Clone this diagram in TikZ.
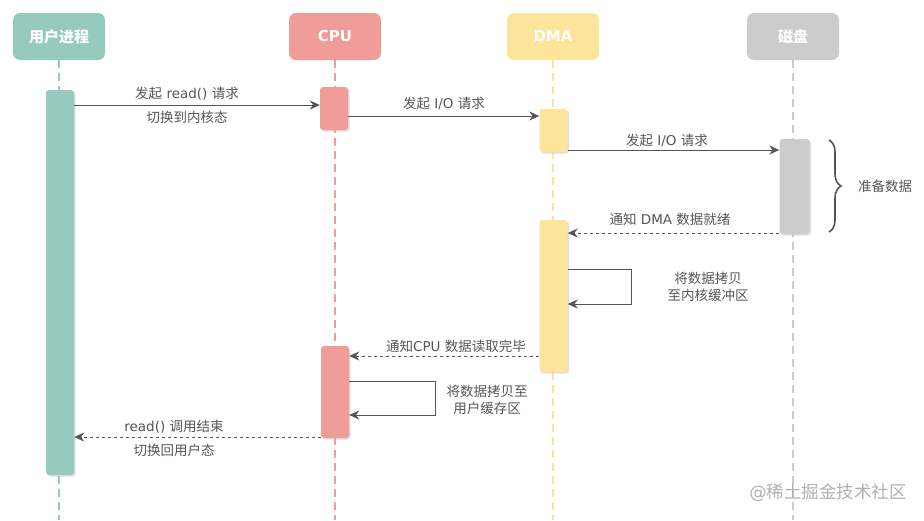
\documentclass[tikz,border=0pt]{standalone}
\usepackage{fontspec}
\setmainfont{DejaVu Sans}
\newfontfamily\cjk{Noto Sans CJK SC}
\usetikzlibrary{arrows.meta,decorations.pathreplacing,calc,shadows}
\definecolor{cuser}{HTML}{96CABD}
\definecolor{ccpu}{HTML}{F09C99}
\definecolor{cdma}{HTML}{FDE49B}
\definecolor{cdisk}{HTML}{CCCCCC}
\definecolor{ctext}{HTML}{555555}
\definecolor{cmark}{HTML}{B0B0B0}
\begin{document}
\begin{tikzpicture}[x=1pt,y=-1pt,
  head/.style={rounded corners=7pt, minimum width=92pt, minimum height=47pt, inner sep=0pt,
    text=white, font=\fontsize{15}{17}\selectfont\bfseries},
  life/.style={line width=1.8pt, dash pattern=on 8pt off 5pt},
  bar/.style={rounded corners=3pt, minimum width=28pt, inner sep=0pt,
    drop shadow={shadow xshift=1.5pt, shadow yshift=-1.5pt, fill=black!25}},
  msg/.style={draw=ctext, line width=0.9pt, -{Stealth[length=10pt,width=9pt]}},
  ret/.style={msg, dashed},
  lbl/.style={text=ctext, font=\fontsize{13.5}{16}\selectfont, inner sep=0pt},
]
\useasboundingbox (0,0) rectangle (924,520);
% headers
\node[head, fill=cuser] (hu) at (59,36.5) {\cjk\bfseries 用户进程};
\node[head, fill=ccpu] (hc) at (335,36.5) {CPU};
\node[head, fill=cdma] (hd) at (553,36.5) {DMA};
\node[head, fill=cdisk] (hk) at (793,36.5) {\cjk\bfseries 磁盘};
% lifeline ends
\coordinate (eu) at (59,520);
\coordinate (ec) at (335,520);
\coordinate (ed) at (553,520);
\coordinate (ek) at (793,520);
\draw[life, draw=cuser] (hu.south) -- (eu);
\draw[life, draw=ccpu] (hc.south) -- (ec);
\draw[life, draw=cdma] (hd.south) -- (ed);
\draw[life, draw=cdisk] (hk.south) -- (ek);
% activation bars
\node[bar, fill=cuser, minimum height=385pt] (u1) at (60,282.5) {};
\node[bar, fill=ccpu, minimum height=43pt] (c1) at (334,108.5) {};
\node[bar, fill=ccpu, minimum height=92pt] (c2) at (335,392) {};
\node[bar, fill=cdma, minimum height=43pt] (d1) at (553.5,130.5) {};
\node[bar, fill=cdma, minimum height=152pt] (d2) at (553.5,296) {};
\node[bar, fill=cdisk, minimum width=30pt, minimum height=95pt] (k1) at (794.5,186.5) {};
% messages
\draw[msg] (u1.east |- 0,105) -- (c1.west |- 0,105);
\node[lbl] (m1a) at (187,94) {{\cjk 发起} read() {\cjk 请求}};
\node[lbl] (m1b) at (187,117) {\cjk 切换到内核态};
\draw[msg] (c1.east |- 0,116) -- (d1.west |- 0,116);
\node[lbl] (m2) at (444,103) {{\cjk 发起} I/O {\cjk 请求}};
\draw[msg] (d1.east |- 0,150) -- (k1.west |- 0,150);
\node[lbl] (m3) at (667,140) {{\cjk 发起} I/O {\cjk 请求}};
% brace
\coordinate (b1) at (829,140);
\coordinate (b2) at (829,232);
\draw[draw=ctext, line width=1.6pt, decorate, decoration={brace, amplitude=12pt}] (b1) -- (b2);
\node[lbl] (prep) at (885,186) {\cjk 准备数据};
% notify DMA
\draw[ret] (k1.west |- 0,233) -- (d2.east |- 0,233);
\node[lbl] (m4) at (670,219) {{\cjk 通知} DMA {\cjk 数据就绪}};
% DMA self loop
\coordinate (s1) at (631,269);
\coordinate (s2) at (631,304);
\draw[msg] (d2.east |- s1) -- (s1) -- (s2) -- (d2.east |- s2);
\node[lbl, align=center] (m5) at (708,287) {\cjk 将数据拷贝\\[1pt]\cjk 至内核缓冲区};
% notify CPU
\draw[ret] (d2.west |- 0,356) -- (c2.east |- 0,356);
\node[lbl] (m6) at (456,346) {{\cjk 通知}CPU {\cjk 数据读取完毕}};
% CPU self loop
\coordinate (t1) at (435,381);
\coordinate (t2) at (435,415);
\draw[msg] (c2.east |- t1) -- (t1) -- (t2) -- (c2.east |- t2);
\node[lbl, align=center] (m7) at (487,400) {\cjk 将数据拷贝至\\[1pt]\cjk 用户缓存区};
% return
\draw[ret] (c2.west |- 0,437) -- (u1.east |- 0,437);
\node[lbl] (m8a) at (174,427) {read() {\cjk 调用结束}};
\node[lbl] (m8b) at (174,450) {\cjk 切换回用户态};
% watermark
\node[text=cmark, font=\fontsize{17.5}{19}\selectfont, inner sep=0pt] (wm) at (828,493) {{@}{\cjk 稀土掘金技术社区}};
\end{tikzpicture}
\end{document}
